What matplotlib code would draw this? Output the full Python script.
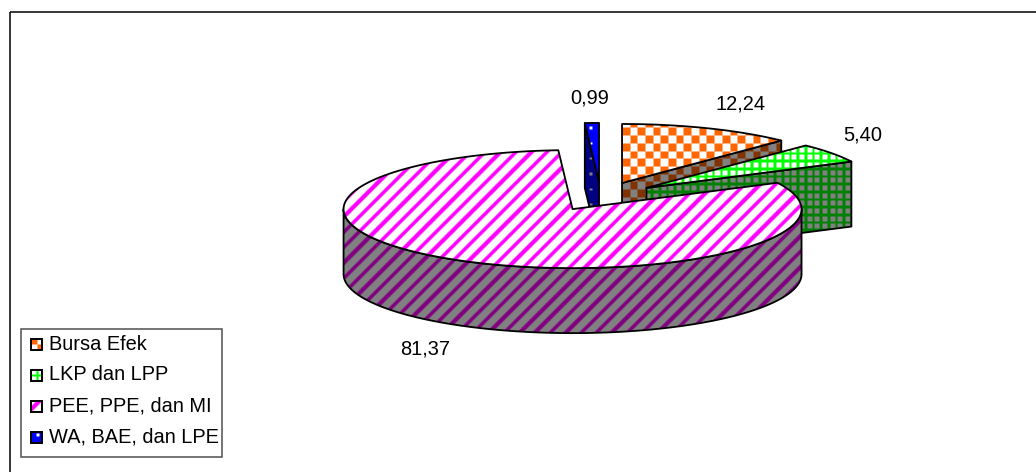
import numpy as np
import matplotlib
matplotlib.use("Agg")
import matplotlib.pyplot as plt
from matplotlib.patches import Polygon, Rectangle

plt.rcParams['font.family'] = ['Liberation Sans', 'DejaVu Sans']

categories = ["Bursa Efek", "LKP dan LPP", "PEE, PPE, dan MI", "WA, BAE, dan LPE"]
values = [12.24, 5.40, 81.37, 0.99]

label_pos = [(741, 104), (863, 135), (425, 349), (590, 98)]
legend_rows = [344, 375, 406, 437]

# pie geometry in pixels
cx, cy = 600.8, 196.5
rx, ry = 229, 59
depth = 65
explode = 0.247

W, H = 1036, 472
yy, xx = np.mgrid[0:H, 0:W]
P = 15.36


def rgb(h):
    return np.array(matplotlib.colors.to_rgb(h))


def soft(mask):
    m = mask.astype(float)
    m = (m + np.roll(m, 1, 0) + np.roll(m, 1, 1) + np.roll(m, (1, 1), (0, 1))) / 4
    return m


def make_img(mask, fg, bg):
    m = soft(mask)[..., None]
    return m * rgb(fg) + (1 - m) * rgb(bg)


def checker(ox, oy):
    return (((xx - ox) // (P / 2)).astype(int) + ((yy - oy) // (P / 2)).astype(int)) % 2 == 0


def grid(ox, oy):
    q = P / 2
    return (np.abs((xx - ox + q / 2) % q - q / 2) < 1.3) | (np.abs((yy - oy + q / 2) % q - q / 2) < 1.3)


def stripes(c):
    return np.abs((xx + yy - c + P / 2) % P - P / 2) < 2.7


def dots(ox, oy):
    return (np.abs((xx - ox + P / 2) % P - P / 2) < 1.2) & (np.abs((yy - oy + P / 2) % P - P / 2) < 1.2)


patterns = [checker(621.5, 127), grid(804.8, 175.5), stripes(5.5), dots(590, 127)]
swatch_patterns = [checker(28.8, 336.8), grid(36.5, 375.5), stripes(439.5 % P), dots(37, 435)]
top_cols = [("#FF6600", "#FFFFFF"), ("#00FF00", "#FFFFFF"), ("#FF00FF", "#FFFFFF"), ("#FFFFFF", "#0000FF")]
side_cols = [("#803300", "#808080"), ("#008000", "#808080"), ("#800080", "#808080"), ("#808080", "#000080")]

fig = plt.figure(figsize=(W / 100, H / 100), dpi=100)
ax = fig.add_axes([0, 0, 1, 1])
ax.axis("off")

z = [2]


def fill(pts, mask, cols, lw=1.3, ec="black"):
    z[0] += 1
    patch = Polygon(pts, closed=True, fc="none", ec=ec, lw=lw, joinstyle="round", zorder=z[0] + 0.5)
    ax.add_patch(patch)
    im = ax.imshow(make_img(mask, cols[0], cols[1]), extent=(0, W, H, 0), aspect="auto",
                   interpolation="nearest", zorder=z[0])
    im.set_clip_path(patch)


def rim(x0, y0, a, b):
    t = np.radians(np.linspace(a, b, 160))
    return np.column_stack([x0 + rx * np.sin(t), y0 - ry * np.cos(t)])


# wedge angles, clockwise from twelve o'clock
total = sum(values)
ends = np.cumsum(values) / total * 360
starts = np.r_[0, ends[:-1]]
mids = (starts + ends) / 2
centers = [(cx + explode * rx * np.sin(np.radians(m)), cy - explode * ry * np.cos(np.radians(m))) for m in mids]
down = np.array([0, depth])

# orange and green: cut face at the end angle, then top
for i in [0, 1]:
    c = np.array(centers[i])
    arc = rim(c[0], c[1], starts[i], ends[i])
    fill([c, arc[-1], arc[-1] + down, c + down], patterns[i], side_cols[i])
    fill(np.vstack([c, arc]), patterns[i], top_cols[i])

# blue: cut face at the start angle, then top
c = np.array(centers[3])
arc = rim(c[0], c[1], starts[3], ends[3])
fill([c, arc[0], arc[0] + down, c + down], patterns[3], side_cols[3])
fill(np.vstack([c, arc]), patterns[3], top_cols[3])

# pink: outer wall, then top
c = np.array(centers[2])
wall = rim(c[0], c[1], 90, 270)
fill(np.vstack([wall, (wall + down)[::-1]]), patterns[2], side_cols[2])
fill(np.vstack([c, rim(c[0], c[1], starts[2], ends[2])]), patterns[2], top_cols[2])

# data labels
for v, (lx, ly) in zip(values, label_pos):
    ax.text(lx, ly, f"{v:.2f}".replace(".", ","), ha="center", va="center", fontsize=14.4, color="black", zorder=40)

# chart frame, only top and left are inside the crop
ax.plot([9.5, W], [11.5, 11.5], color="black", lw=1.1, zorder=30, solid_capstyle="butt")
ax.plot([9.5, 9.5], [11.5, H], color="black", lw=1.1, zorder=30, solid_capstyle="butt")

# legend
ax.add_patch(Rectangle((21, 329), 201, 128, fc="white", ec="#505050", lw=1.1, zorder=31))
for i, (name, row) in enumerate(zip(categories, legend_rows)):
    sw = Rectangle((30.5, row - 5.5), 11, 11, fc="none", ec="black", lw=1.4, zorder=33)
    ax.add_patch(sw)
    im = ax.imshow(make_img(swatch_patterns[i], top_cols[i][0], top_cols[i][1]), extent=(0, W, H, 0),
                   aspect="auto", interpolation="nearest", zorder=32)
    im.set_clip_path(sw)
    ax.text(49, row, name, ha="left", va="center", fontsize=14.4, color="black", zorder=34)

ax.set_xlim(0, W)
ax.set_ylim(H, 0)
fig.savefig("out.png", dpi=100, facecolor="white")
